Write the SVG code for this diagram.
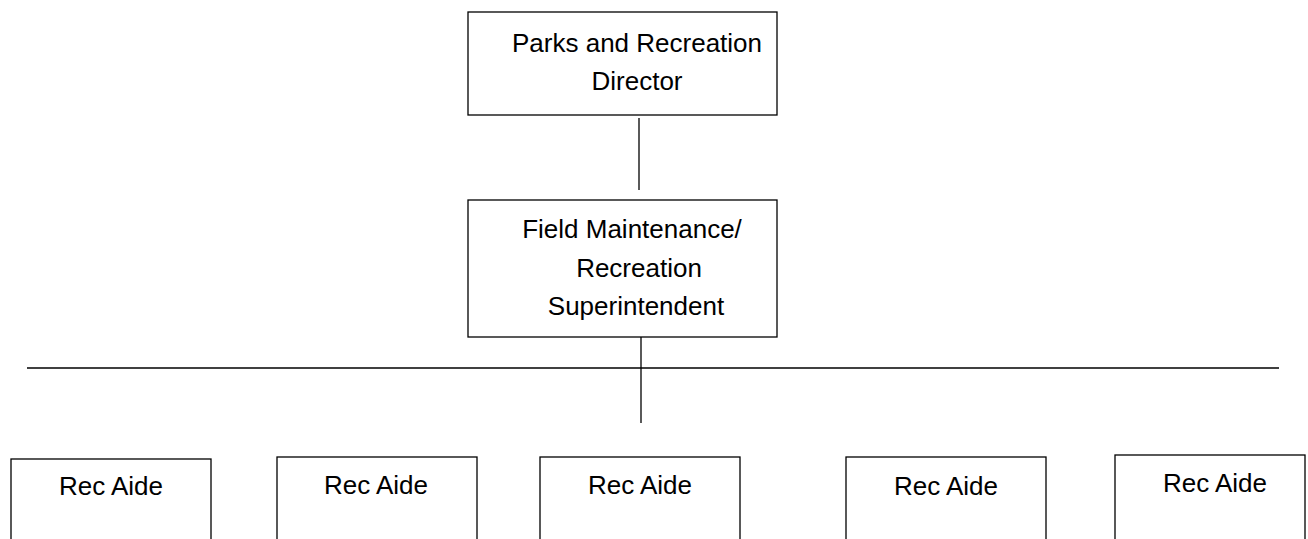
<svg xmlns="http://www.w3.org/2000/svg" width="1308" height="539" viewBox="0 0 1308 539">
<style>
.box{fill:#fff;stroke:#000;stroke-width:1.3}
.t{font-family:"Liberation Sans",Arial,sans-serif;font-size:26px;fill:#000;text-anchor:middle}
.c{stroke:#000;stroke-width:1.3;fill:none}
</style>
<rect width="1308" height="539" fill="#fff"/>
<g id="connectors">
<line class="c" x1="639" y1="118" x2="639" y2="190"/>
<line class="c" x1="641" y1="337" x2="641" y2="423"/>
<line class="c" x1="27" y1="368" x2="1279" y2="368"/>
</g>
<g id="director">
<rect class="box" x="468" y="12" width="309" height="103"/>
<text class="t" x="637" y="52">Parks and Recreation</text>
<text class="t" x="637" y="90">Director</text>
</g>
<g id="superintendent">
<rect class="box" x="468" y="200" width="309" height="137"/>
<text class="t" x="632" y="238">Field Maintenance/</text>
<text class="t" x="639" y="277">Recreation</text>
<text class="t" x="636" y="315">Superintendent</text>
</g>
<g id="aide1">
<rect class="box" x="11" y="459" width="200" height="90"/>
<text class="t" x="111" y="495">Rec Aide</text>
</g>
<g id="aide2">
<rect class="box" x="277" y="457" width="200" height="92"/>
<text class="t" x="376" y="494">Rec Aide</text>
</g>
<g id="aide3">
<rect class="box" x="540" y="457" width="200" height="92"/>
<text class="t" x="640" y="494">Rec Aide</text>
</g>
<g id="aide4">
<rect class="box" x="846" y="457" width="200" height="92"/>
<text class="t" x="946" y="495">Rec Aide</text>
</g>
<g id="aide5">
<rect class="box" x="1115" y="455" width="190" height="94"/>
<text class="t" x="1215" y="492">Rec Aide</text>
</g>
</svg>
